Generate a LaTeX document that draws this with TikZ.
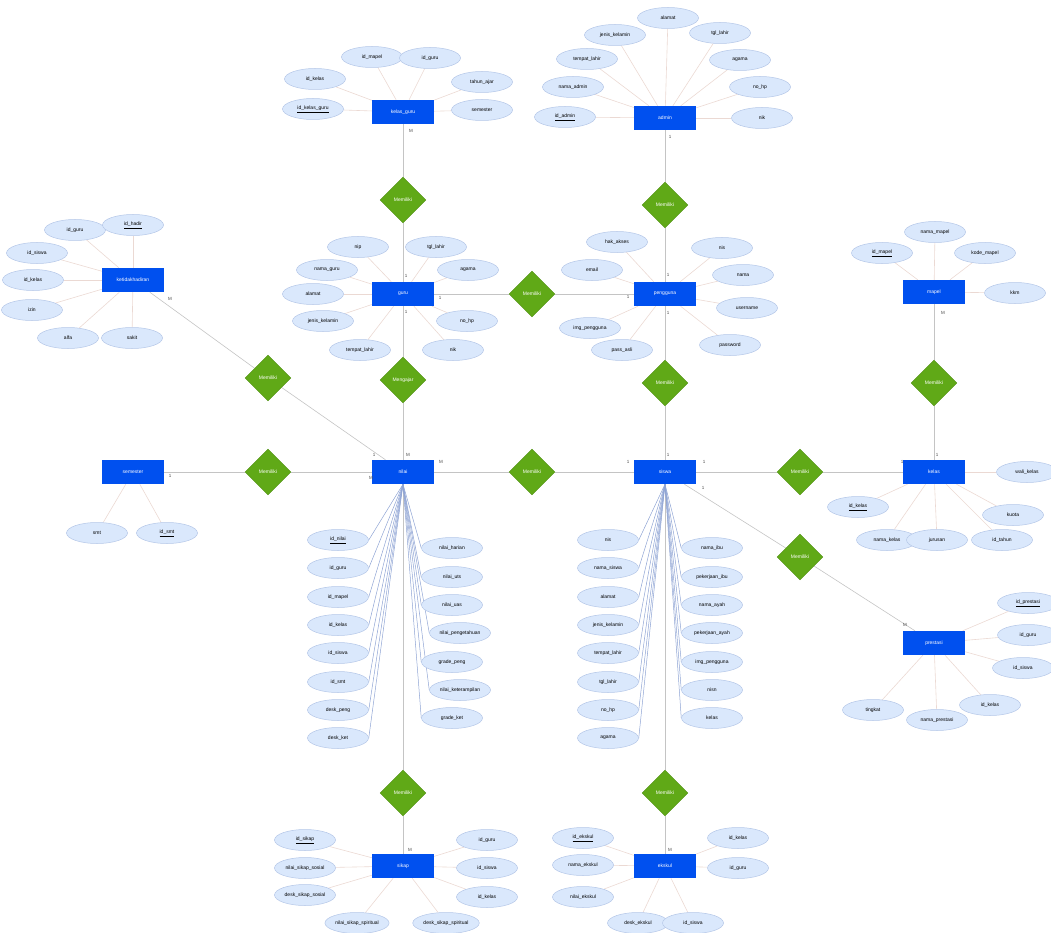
\documentclass[tikz,border=0pt]{standalone}
\usepackage{fontspec}
\setmainfont{Liberation Sans}
\usepackage{tikz}
\usetikzlibrary{shapes.geometric, backgrounds}

\definecolor{entblue}{HTML}{0050EF}
\definecolor{relgreen}{HTML}{60A917}
\definecolor{relborder}{HTML}{4F8F12}
\definecolor{attrfill}{HTML}{DAE8FC}
\definecolor{attrborder}{HTML}{B4C6E7}
\definecolor{linkgrey}{HTML}{C4C4C4}
\definecolor{attrline}{HTML}{EBD9D3}
\definecolor{fanblue}{HTML}{8FA4D4}

\begin{document}
\begin{tikzpicture}[
    x=1pt, y=-1pt,
    font=\fontsize{5}{6}\selectfont,
    entity/.style={rectangle, fill=entblue, text=white, minimum width=62pt, minimum height=24pt, inner sep=1pt},
    relation/.style={diamond, aspect=1, fill=relgreen, draw=relborder, text=white, minimum size=46pt, inner sep=0pt},
    attr/.style={ellipse, fill=attrfill, draw=attrborder, line width=0.5pt, minimum width=61pt, minimum height=21pt, inner sep=1pt},
    card/.style={font=\fontsize{4.5}{5}\selectfont, text=black!70, inner sep=0.5pt},
    link/.style={draw=linkgrey, line width=0.6pt},
    attrlink/.style={draw=attrline, line width=0.6pt},
    fanlink/.style={draw=fanblue, line width=0.5pt}
]
    \useasboundingbox (0,0) rectangle (1051,933);

    % Entities
    \node[entity] (kg)  at (403,112) {kelas\_guru};
    \node[entity] (adm) at (665,118) {admin};
    \node[entity] (khd) at (133,280) {ketidakhadiran};
    \node[entity] (gur) at (403,294) {guru};
    \node[entity] (pgn) at (665,294) {pengguna};
    \node[entity] (mpl) at (934,292) {mapel};
    \node[entity] (smt) at (133,472) {semester};
    \node[entity] (nil) at (403,472) {nilai};
    \node[entity] (sis) at (665,472) {siswa};
    \node[entity] (kls) at (934,472) {kelas};
    \node[entity] (prs) at (934,643) {prestasi};
    \node[entity] (skp) at (403,866) {sikap};
    \node[entity] (eks) at (665,866) {ekskul};

    % Relations
    \node[relation] (r1)  at (403,200) {Memiliki};
    \node[relation] (r2)  at (665,205) {Memiliki};
    \node[relation] (r3)  at (532,294) {Memiliki};
    \node[relation] (r4)  at (268,378) {Memiliki};
    \node[relation] (r5)  at (403,380) {Mengajar};
    \node[relation] (r6)  at (665,383) {Memiliki};
    \node[relation] (r7)  at (934,383) {Memiliki};
    \node[relation] (r8)  at (268,472) {Memiliki};
    \node[relation] (r9)  at (532,472) {Memiliki};
    \node[relation] (r10) at (800,472) {Memiliki};
    \node[relation] (r11) at (800,557) {Memiliki};
    \node[relation] (r12) at (403,793) {Memiliki};
    \node[relation] (r13) at (665,793) {Memiliki};

    % Cardinality
    \node[card] (c1)  at (411,131) {M};
    \node[card] (c2)  at (670,137) {1};
    \node[card] (c3)  at (406,276) {1};
    \node[card] (c4)  at (440,298) {1};
    \node[card] (c5)  at (406,312) {1};
    \node[card] (c6)  at (668,275) {1};
    \node[card] (c7)  at (628,297) {1};
    \node[card] (c8)  at (668,313) {1};
    \node[card] (c9)  at (170,299) {M};
    \node[card] (c10) at (943,313) {M};
    \node[card] (c11) at (170,476) {1};
    \node[card] (c12) at (374,455) {1};
    \node[card] (c13) at (408,455) {M};
    \node[card] (c14) at (441,462) {M};
    \node[card] (c15) at (371,478) {M};
    \node[card] (c16) at (668,455) {1};
    \node[card] (c17) at (628,462) {1};
    \node[card] (c18) at (704,462) {1};
    \node[card] (c19) at (703,488) {1};
    \node[card] (c20) at (937,455) {1};
    \node[card] (c21) at (902,462) {1};
    \node[card] (c22) at (905,625) {M};
    \node[card] (c23) at (410,850) {M};
    \node[card] (c24) at (670,850) {M};

    % kelas_guru attributes
    \node[attr] (kg1) at (372,57) {id\_mapel};
    \node[attr] (kg2) at (430,58) {id\_guru};
    \node[attr] (kg3) at (315,79) {id\_kelas};
    \node[attr] (kg4) at (482,82) {tahun\_ajar};
    \node[attr] (kg5) at (313,109) {\underline{id\_kelas\_guru}};
    \node[attr] (kg6) at (482,110) {semester};

    % admin attributes
    \node[attr] (ad1) at (668,18) {alamat};
    \node[attr] (ad2) at (615,35) {jenis\_kelamin};
    \node[attr] (ad3) at (720,33) {tgl\_lahir};
    \node[attr] (ad4) at (587,59) {tempat\_lahir};
    \node[attr] (ad5) at (740,60) {agama};
    \node[attr] (ad6) at (573,87) {nama\_admin};
    \node[attr] (ad7) at (760,87) {no\_hp};
    \node[attr] (ad8) at (565,117) {\underline{id\_admin}};
    \node[attr] (ad9) at (762,118) {nik};

    % ketidakhadiran attributes
    \node[attr] (kh1) at (75,230) {id\_guru};
    \node[attr] (kh2) at (133,225) {\underline{id\_hadir}};
    \node[attr] (kh3) at (37,253) {id\_siswa};
    \node[attr] (kh4) at (33,280) {id\_kelas};
    \node[attr] (kh5) at (32,310) {izin};
    \node[attr] (kh6) at (68,338) {alfa};
    \node[attr] (kh7) at (132,338) {sakit};

    % semester attributes
    \node[attr] (sm1) at (97,533) {smt};
    \node[attr] (sm2) at (167,533) {\underline{id\_smt}};

    % guru attributes
    \node[attr] (gu1) at (358,247) {nip};
    \node[attr] (gu2) at (436,247) {tgl\_lahir};
    \node[attr] (gu3) at (327,270) {nama\_guru};
    \node[attr] (gu4) at (468,270) {agama};
    \node[attr] (gu5) at (313,294) {alamat};
    \node[attr] (gu6) at (323,321) {jenis\_kelamin};
    \node[attr] (gu7) at (467,321) {no\_hp};
    \node[attr] (gu8) at (360,350) {tempat\_lahir};
    \node[attr] (gu9) at (453,350) {nik};

    % pengguna attributes
    \node[attr] (pg1) at (617,242) {hak\_akses};
    \node[attr] (pg2) at (722,248) {nis};
    \node[attr] (pg3) at (592,270) {email};
    \node[attr] (pg4) at (743,275) {nama};
    \node[attr] (pg5) at (747,308) {username};
    \node[attr] (pg6) at (590,328) {img\_pengguna};
    \node[attr] (pg7) at (730,345) {password};
    \node[attr] (pg8) at (622,350) {pass\_asli};

    % mapel attributes
    \node[attr] (mp1) at (935,232) {nama\_mapel};
    \node[attr] (mp2) at (882,253) {\underline{id\_mapel}};
    \node[attr] (mp3) at (985,253) {kode\_mapel};
    \node[attr] (mp4) at (1015,293) {kkm};

    % kelas attributes
    \node[attr] (kl1) at (1027,472) {wali\_kelas};
    \node[attr] (kl2) at (858,507) {\underline{id\_kelas}};
    \node[attr] (kl3) at (1013,515) {kuota};
    \node[attr] (kl4) at (887,540) {nama\_kelas};
    \node[attr] (kl5) at (937,540) {jurusan};
    \node[attr] (kl6) at (1002,540) {id\_tahun};

    % prestasi attributes
    \node[attr] (ps1) at (1028,603) {\underline{id\_prestasi}};
    \node[attr] (ps2) at (1028,635) {id\_guru};
    \node[attr] (ps3) at (1023,668) {id\_siswa};
    \node[attr] (ps4) at (990,705) {id\_kelas};
    \node[attr] (ps5) at (873,710) {tingkat};
    \node[attr] (ps6) at (937,720) {nama\_prestasi};

    % nilai attributes
    \node[attr] (ni1)  at (338,540) {\underline{id\_nilai}};
    \node[attr] (ni2)  at (338,568) {id\_guru};
    \node[attr] (ni3)  at (338,597) {id\_mapel};
    \node[attr] (ni4)  at (338,625) {id\_kelas};
    \node[attr] (ni5)  at (338,653) {id\_siswa};
    \node[attr] (ni6)  at (338,682) {id\_smt};
    \node[attr] (ni7)  at (338,710) {desk\_peng};
    \node[attr] (ni8)  at (338,738) {desk\_ket};
    \node[attr] (ni9)  at (452,548) {nilai\_harian};
    \node[attr] (ni10) at (452,577) {nilai\_uts};
    \node[attr] (ni11) at (452,605) {nilai\_uas};
    \node[attr] (ni12) at (460,633) {nilai\_pengetahuan};
    \node[attr] (ni13) at (452,662) {grade\_peng};
    \node[attr] (ni14) at (460,690) {nilai\_keterampilan};
    \node[attr] (ni15) at (452,718) {grade\_ket};

    % siswa attributes
    \node[attr] (si1)  at (608,540) {nis};
    \node[attr] (si2)  at (608,568) {nama\_siswa};
    \node[attr] (si3)  at (608,597) {alamat};
    \node[attr] (si4)  at (608,625) {jenis\_kelamin};
    \node[attr] (si5)  at (608,653) {tempat\_lahir};
    \node[attr] (si6)  at (608,682) {tgl\_lahir};
    \node[attr] (si7)  at (608,710) {no\_hp};
    \node[attr] (si8)  at (608,738) {agama};
    \node[attr] (si9)  at (712,548) {nama\_ibu};
    \node[attr] (si10) at (712,577) {pekerjaan\_ibu};
    \node[attr] (si11) at (712,605) {nama\_ayah};
    \node[attr] (si12) at (712,633) {pekerjaan\_ayah};
    \node[attr] (si13) at (712,662) {img\_pengguna};
    \node[attr] (si14) at (712,690) {nisn};
    \node[attr] (si15) at (712,718) {kelas};

    % sikap attributes
    \node[attr] (sk1) at (305,840) {\underline{id\_sikap}};
    \node[attr] (sk2) at (305,868) {nilai\_sikap\_sosial};
    \node[attr] (sk3) at (305,895) {desk\_sikap\_sosial};
    \node[attr] (sk4) at (357,923) {nilai\_sikap\_spiritual};
    \node[attr] (sk5) at (446,923) {desk\_sikap\_spiritual};
    \node[attr] (sk6) at (487,840) {id\_guru};
    \node[attr] (sk7) at (487,868) {id\_siswa};
    \node[attr] (sk8) at (487,897) {id\_kelas};

    % ekskul attributes
    \node[attr] (ek1) at (583,838) {\underline{id\_ekskul}};
    \node[attr] (ek2) at (583,865) {nama\_ekskul};
    \node[attr] (ek3) at (583,897) {nilai\_ekskul};
    \node[attr] (ek4) at (638,923) {desk\_ekskul};
    \node[attr] (ek5) at (693,923) {id\_siswa};
    \node[attr] (ek6) at (738,838) {id\_kelas};
    \node[attr] (ek7) at (738,868) {id\_guru};

    % all lines go behind the shapes
    \begin{pgfonlayer}{background}
    % relation links
    \draw[link] (kg) -- (r1) -- (gur);
    \draw[link] (adm) -- (r2) -- (pgn);
    \draw[link] (gur) -- (r3) -- (pgn);
    \draw[link] (khd) -- (r4) -- (nil);
    \draw[link] (gur) -- (r5) -- (nil);
    \draw[link] (pgn) -- (r6) -- (sis);
    \draw[link] (mpl) -- (r7) -- (kls);
    \draw[link] (smt) -- (r8) -- (nil);
    \draw[link] (nil) -- (r9) -- (sis);
    \draw[link] (sis) -- (r10) -- (kls);
    \draw[link] (sis) -- (r11) -- (prs);
    \draw[link] (nil) -- (r12) -- (skp);
    \draw[link] (sis) -- (r13) -- (eks);

    % attribute links
    \draw[attrlink] (kg) -- (kg1);  \draw[attrlink] (kg) -- (kg2);
    \draw[attrlink] (kg) -- (kg3);  \draw[attrlink] (kg) -- (kg4);
    \draw[attrlink] (kg) -- (kg5);  \draw[attrlink] (kg) -- (kg6);

    \draw[attrlink] (adm) -- (ad1); \draw[attrlink] (adm) -- (ad2);
    \draw[attrlink] (adm) -- (ad3); \draw[attrlink] (adm) -- (ad4);
    \draw[attrlink] (adm) -- (ad5); \draw[attrlink] (adm) -- (ad6);
    \draw[attrlink] (adm) -- (ad7); \draw[attrlink] (adm) -- (ad8);
    \draw[attrlink] (adm) -- (ad9);

    \draw[attrlink] (khd) -- (kh1); \draw[attrlink] (khd) -- (kh2);
    \draw[attrlink] (khd) -- (kh3); \draw[attrlink] (khd) -- (kh4);
    \draw[attrlink] (khd) -- (kh5); \draw[attrlink] (khd) -- (kh6);
    \draw[attrlink] (khd) -- (kh7);

    \draw[attrlink] (smt) -- (sm1); \draw[attrlink] (smt) -- (sm2);

    \draw[attrlink] (gur) -- (gu1); \draw[attrlink] (gur) -- (gu2);
    \draw[attrlink] (gur) -- (gu3); \draw[attrlink] (gur) -- (gu4);
    \draw[attrlink] (gur) -- (gu5); \draw[attrlink] (gur) -- (gu6);
    \draw[attrlink] (gur) -- (gu7); \draw[attrlink] (gur) -- (gu8);
    \draw[attrlink] (gur) -- (gu9);

    \draw[attrlink] (pgn) -- (pg1); \draw[attrlink] (pgn) -- (pg2);
    \draw[attrlink] (pgn) -- (pg3); \draw[attrlink] (pgn) -- (pg4);
    \draw[attrlink] (pgn) -- (pg5); \draw[attrlink] (pgn) -- (pg6);
    \draw[attrlink] (pgn) -- (pg7); \draw[attrlink] (pgn) -- (pg8);

    \draw[attrlink] (mpl) -- (mp1); \draw[attrlink] (mpl) -- (mp2);
    \draw[attrlink] (mpl) -- (mp3); \draw[attrlink] (mpl) -- (mp4);

    \draw[attrlink] (kls) -- (kl1); \draw[attrlink] (kls) -- (kl2);
    \draw[attrlink] (kls) -- (kl3); \draw[attrlink] (kls) -- (kl4);
    \draw[attrlink] (kls) -- (kl5); \draw[attrlink] (kls) -- (kl6);

    \draw[attrlink] (prs) -- (ps1); \draw[attrlink] (prs) -- (ps2);
    \draw[attrlink] (prs) -- (ps3); \draw[attrlink] (prs) -- (ps4);
    \draw[attrlink] (prs) -- (ps5); \draw[attrlink] (prs) -- (ps6);

    \draw[attrlink] (skp) -- (sk1); \draw[attrlink] (skp) -- (sk2);
    \draw[attrlink] (skp) -- (sk3); \draw[attrlink] (skp) -- (sk4);
    \draw[attrlink] (skp) -- (sk5); \draw[attrlink] (skp) -- (sk6);
    \draw[attrlink] (skp) -- (sk7); \draw[attrlink] (skp) -- (sk8);

    \draw[attrlink] (eks) -- (ek1); \draw[attrlink] (eks) -- (ek2);
    \draw[attrlink] (eks) -- (ek3); \draw[attrlink] (eks) -- (ek4);
    \draw[attrlink] (eks) -- (ek5); \draw[attrlink] (eks) -- (ek6);
    \draw[attrlink] (eks) -- (ek7);

    % nilai fan
    \draw[fanlink] (nil.south) -- (ni1.east);  \draw[fanlink] (nil.south) -- (ni2.east);
    \draw[fanlink] (nil.south) -- (ni3.east);  \draw[fanlink] (nil.south) -- (ni4.east);
    \draw[fanlink] (nil.south) -- (ni5.east);  \draw[fanlink] (nil.south) -- (ni6.east);
    \draw[fanlink] (nil.south) -- (ni7.east);  \draw[fanlink] (nil.south) -- (ni8.east);
    \draw[fanlink] (nil.south) -- (ni9.west);  \draw[fanlink] (nil.south) -- (ni10.west);
    \draw[fanlink] (nil.south) -- (ni11.west); \draw[fanlink] (nil.south) -- (ni12.west);
    \draw[fanlink] (nil.south) -- (ni13.west); \draw[fanlink] (nil.south) -- (ni14.west);
    \draw[fanlink] (nil.south) -- (ni15.west);

    % siswa fan
    \draw[fanlink] (sis.south) -- (si1.east);  \draw[fanlink] (sis.south) -- (si2.east);
    \draw[fanlink] (sis.south) -- (si3.east);  \draw[fanlink] (sis.south) -- (si4.east);
    \draw[fanlink] (sis.south) -- (si5.east);  \draw[fanlink] (sis.south) -- (si6.east);
    \draw[fanlink] (sis.south) -- (si7.east);  \draw[fanlink] (sis.south) -- (si8.east);
    \draw[fanlink] (sis.south) -- (si9.west);  \draw[fanlink] (sis.south) -- (si10.west);
    \draw[fanlink] (sis.south) -- (si11.west); \draw[fanlink] (sis.south) -- (si12.west);
    \draw[fanlink] (sis.south) -- (si13.west); \draw[fanlink] (sis.south) -- (si14.west);
    \draw[fanlink] (sis.south) -- (si15.west);
    \end{pgfonlayer}

\end{tikzpicture}
\end{document}
